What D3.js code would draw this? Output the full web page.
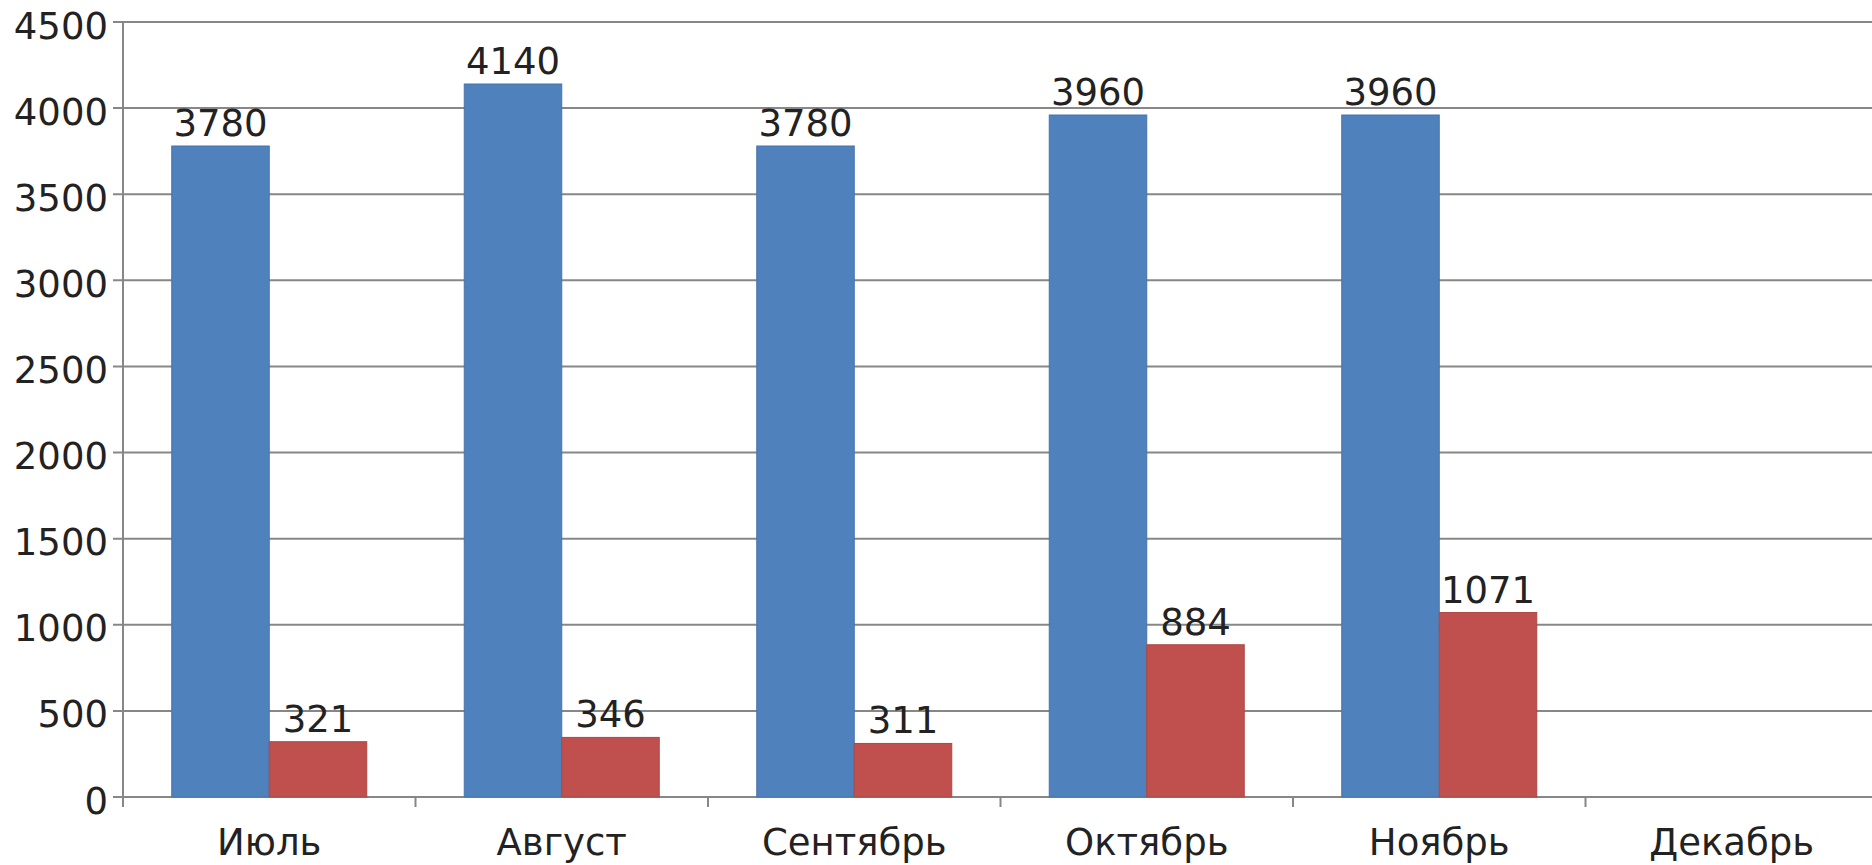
<!DOCTYPE html>
<html>
<head>
<meta charset="utf-8">
<script src="https://cdn.jsdelivr.net/npm/d3@7"></script>
<style>
  html, body { margin: 0; padding: 0; background: #fff; overflow: hidden; }
  svg { display: block; }
  text { font-family: "DejaVu Sans", sans-serif; fill: #222; }
</style>
</head>
<body>
<svg id="chart" width="1872" height="865"></svg>
<script>
// Monthly figures, two series per month
const months = ["Июль", "Август", "Сентябрь", "Октябрь", "Ноябрь", "Декабрь"];
const seriesA = [3780, 4140, 3780, 3960, 3960, null];
const seriesB = [321, 346, 311, 884, 1071, null];
const yTicks = [0, 500, 1000, 1500, 2000, 2500, 3000, 3500, 4000, 4500];
const seriesColors = ["#4F81BD", "#C0504D"];

const svg = d3.select("#chart");
const W = 1872;
const plotLeft = 123, plotRight = 1878, plotTop = 22, plotBottom = 797;
const fontSize = 37;

const x0 = d3.scaleBand().domain(months).range([plotLeft, plotRight]).paddingInner(0).paddingOuter(0);
const x1 = d3.scaleBand().domain([0, 1]).range([0, x0.bandwidth()]).paddingInner(0).paddingOuter(0.5);
const y = d3.scaleLinear().domain([0, 4500]).range([plotBottom, plotTop]);

const gridColor = "#878787";

// Horizontal gridlines
svg.append("g")
  .selectAll("line")
  .data(yTicks)
  .join("line")
  .attr("x1", plotLeft - 10)
  .attr("x2", W)
  .attr("y1", d => y(d))
  .attr("y2", d => y(d))
  .attr("stroke", gridColor)
  .attr("stroke-width", 2);

// Y-axis line
svg.append("line")
  .attr("x1", plotLeft).attr("x2", plotLeft)
  .attr("y1", plotTop).attr("y2", plotBottom + 10)
  .attr("stroke", gridColor).attr("stroke-width", 2);

// Category boundary ticks on the x-axis
const boundaries = months.map(m => x0(m)).concat([plotRight]);
svg.append("g")
  .selectAll("line")
  .data(boundaries)
  .join("line")
  .attr("x1", d => d).attr("x2", d => d)
  .attr("y1", plotBottom).attr("y2", plotBottom + 10)
  .attr("stroke", gridColor).attr("stroke-width", 2);

// Y tick labels
svg.append("g")
  .selectAll("text")
  .data(yTicks)
  .join("text")
  .attr("x", plotLeft - 15)
  .attr("y", d => y(d) + 4)
  .attr("text-anchor", "end")
  .attr("dominant-baseline", "central")
  .style("font-size", fontSize + "px")
  .text(d => d);

// Bars
const rows = months.map((m, i) => ({ month: m, values: [seriesA[i], seriesB[i]] }));
const groups = svg.append("g")
  .selectAll("g")
  .data(rows)
  .join("g")
  .attr("transform", d => `translate(${x0(d.month)},0)`);

groups.selectAll("rect")
  .data(d => d.values.map((v, k) => ({ k, v })).filter(e => e.v != null))
  .join("rect")
  .attr("x", d => x1(d.k))
  .attr("width", x1.bandwidth())
  .attr("y", d => y(d.v))
  .attr("height", d => y(0) - y(d.v))
  .attr("fill", d => seriesColors[d.k])
  .attr("stroke", d => d3.color(seriesColors[d.k]).darker(0.3))
  .attr("stroke-width", 1);

// Value labels above bars
groups.selectAll("text")
  .data(d => d.values.map((v, k) => ({ k, v })).filter(e => e.v != null))
  .join("text")
  .attr("x", d => x1(d.k) + x1.bandwidth() / 2)
  .attr("y", d => y(d.v) - 10)
  .attr("text-anchor", "middle")
  .style("font-size", fontSize + "px")
  .text(d => d.v);

// Month labels
svg.append("g")
  .selectAll("text")
  .data(months)
  .join("text")
  .attr("x", d => x0(d) + x0.bandwidth() / 2)
  .attr("y", 855)
  .attr("text-anchor", "middle")
  .style("font-size", fontSize + "px")
  .text(d => d);
</script>
</body>
</html>
